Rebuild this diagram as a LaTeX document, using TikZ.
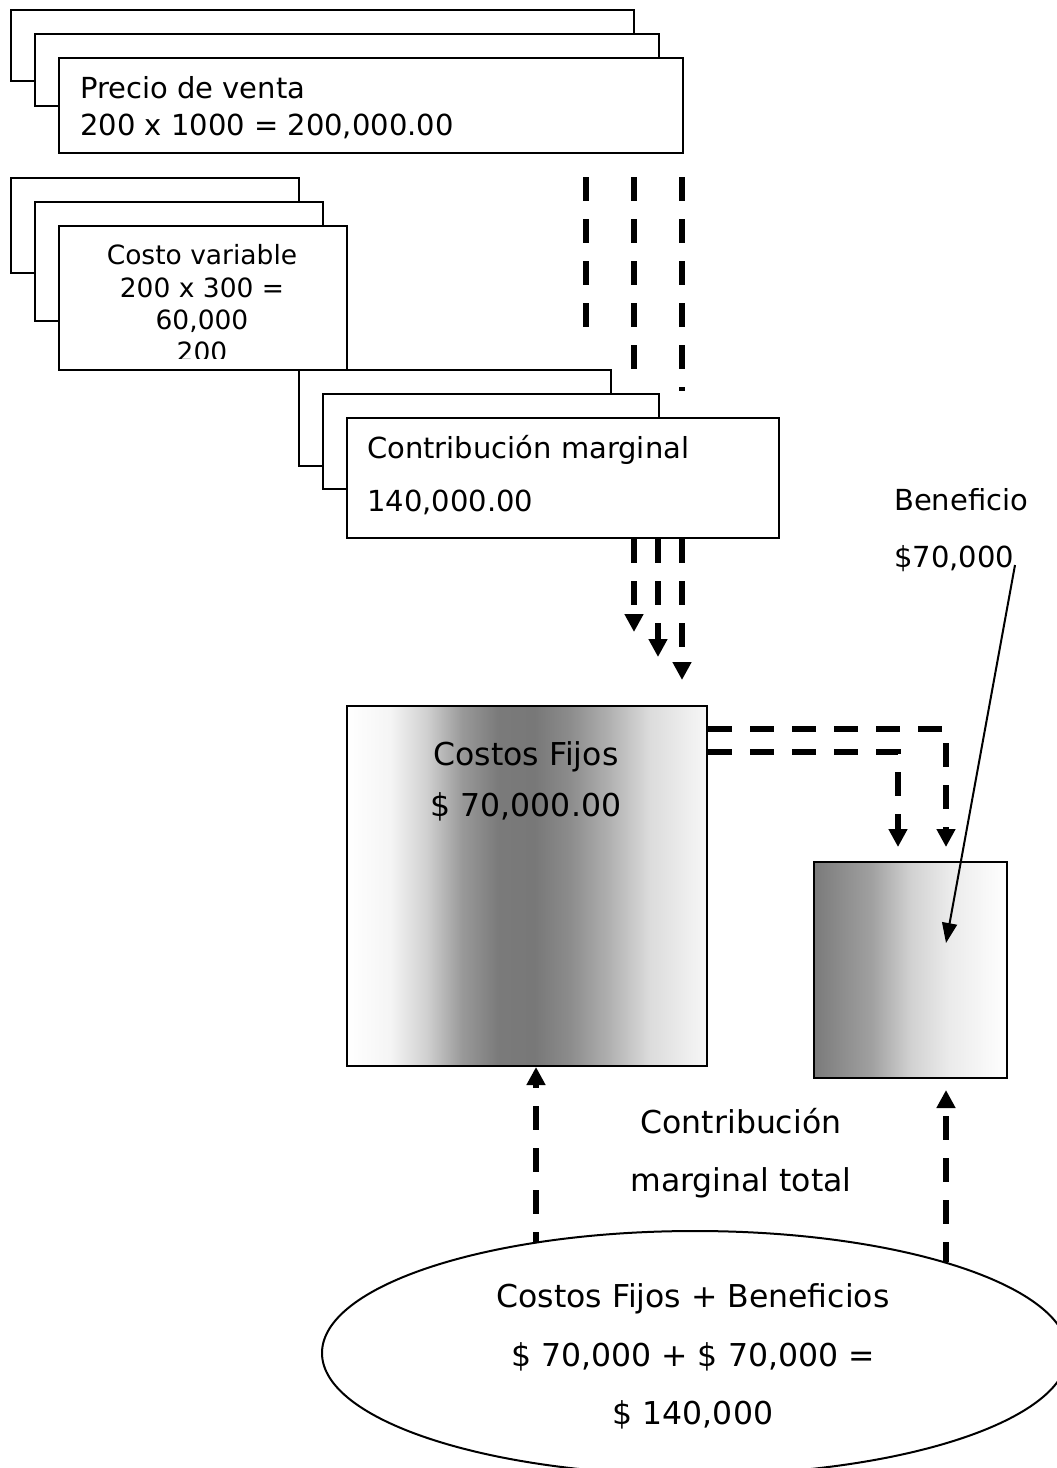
\documentclass[tikz,border=0pt]{standalone}
\usepackage{fontspec}
\setmainfont{DejaVu Sans}
\usetikzlibrary{arrows.meta, shapes.geometric}

\pgfdeclarehorizontalshading{fijos}{100bp}{color(0bp)=(white); color(25bp)=(white); color(31bp)=(black!4); color(36bp)=(black!18); color(41bp)=(black!40); color(46bp)=(black!52); color(51bp)=(black!53); color(56bp)=(black!45); color(61bp)=(black!32); color(67bp)=(black!14); color(75bp)=(black!3); color(100bp)=(black!3)}
\pgfdeclarehorizontalshading{benef}{100bp}{color(0bp)=(black!52); color(25bp)=(black!52); color(40bp)=(black!37); color(50bp)=(black!18); color(60bp)=(black!8); color(75bp)=(white); color(100bp)=(white)}

\begin{document}
\begin{tikzpicture}[x=1pt, y=-1pt,
    box/.style={draw, line width=2pt, anchor=north west, inner sep=0pt},
    card/.style={box, fill=white},
    flow/.style={line width=6.5pt, dash pattern=on 24pt off 18pt},
    flowtip/.style={flow, -{Triangle[length=18pt,width=18pt]}},
    txt/.style={inner sep=0pt, font=\fontsize{29}{#1}\selectfont},
    bigtxt/.style={inner sep=0pt, font=\fontsize{31.5}{#1}\selectfont}]
    \useasboundingbox (0,0) rectangle (1057,1468);
    \clip (0,0) rectangle (1057,1468);

    % dashed lines below the price
    \coordinate (a1) at (586,177);
    \coordinate (a2) at (586,327);
    \coordinate (b1) at (634,177);
    \coordinate (b2) at (634,369);
    \coordinate (c1) at (682,177);
    \coordinate (c2) at (682,391);
    \draw[flow] (a1) -- (a2);
    \draw[flow] (b1) -- (b2);
    \draw[flow] (c1) -- (c2);

    % precio de venta
    \node[card, minimum width=623, minimum height=71] (pv3) at (10,9) {};
    \node[card, minimum width=624, minimum height=72] (pv2) at (34,33) {};
    \node[card, minimum width=624, minimum height=95] (pv1) at (58,57) {};
    \node[txt=37, anchor=north west, align=left] (pvtxt) at (80,76) {Precio de venta\\200 x 1000 = 200,000.00};

    % costo variable
    \node[card, minimum width=288, minimum height=95] (cv3) at (10,177) {};
    \node[card, minimum width=288, minimum height=119] (cv2) at (34,201) {};
    \node[card, minimum width=288, minimum height=144] (cv1) at (58,225) {};
    \begin{scope}
        \clip (58,225) rectangle (346,358);
        \node[inner sep=0pt, anchor=north, align=center, font=\fontsize{26.5}{32.3}\selectfont] (cvtxt) at (202,244.5) {Costo variable\\200 x 300 =\\60,000\\200};
    \end{scope}

    % contribucion marginal
    \node[card, minimum width=312, minimum height=96] (cm3) at (298,369) {};
    \node[card, minimum width=336, minimum height=95] (cm2) at (322,393) {};
    \node[card, minimum width=432, minimum height=120] (cm) at (346,417) {};
    \node[txt=53, anchor=north west, align=left] (cmtxt) at (367,435.4) {Contribución marginal\\140,000.00};

    \coordinate (d1) at (634,632);
    \coordinate (d2) at (658,657);
    \coordinate (d3) at (682,680);
    \draw[flowtip] (cm.south -| d1) -- (d1);
    \draw[flowtip] (cm.south -| d2) -- (d2);
    \draw[flowtip] (cm.south -| d3) -- (d3);

    % costos fijos y beneficio
    \node[box, shade, shading=fijos, minimum width=360, minimum height=360] (cf) at (346,705) {};
    \node[bigtxt=51, anchor=north, align=center] (cftxt) at (526,741) {Costos Fijos\\\$ 70,000.00};
    \node[box, shade, shading=benef, minimum width=193, minimum height=216] (bn) at (813,861) {};

    \coordinate (e1) at (946,847);
    \coordinate (e2) at (898,847);
    \draw[flowtip] ([yshift=-24pt]cf.north east) -| (e1);
    \draw[flowtip] ([yshift=-47pt]cf.north east) -| (e2);

    \node[txt=57, anchor=north west, align=left] (bntxt) at (894,488.4) {Beneficio\\\$70,000};
    \coordinate (bl) at (1015,565);
    \coordinate (bt) at (946,943);
    \draw[line width=2pt, -{Triangle[length=20pt,width=15pt]}] (bl) -- (bt);

    % suma
    \node[draw, ellipse, line width=2pt, minimum width=746, minimum height=244, inner sep=0pt] (sum) at (695,1353) {};
    \node[bigtxt=58.5, anchor=north, align=center] (sumtxt) at (693,1283.5) {Costos Fijos + Beneficios\\\$ 70,000 + \$ 70,000 =\\\$ 140,000};
    \node[bigtxt=58, anchor=north, align=center] (cmt) at (741,1108) {Contribución\\marginal total};

    \coordinate (h2) at (946,1090);
    \draw[flowtip, dash phase=14pt] (sum.145) -- (sum.145 |- cf.south);
    \draw[flowtip, dash phase=4pt] (sum.20 -| h2) -- (h2);
\end{tikzpicture}
\end{document}
